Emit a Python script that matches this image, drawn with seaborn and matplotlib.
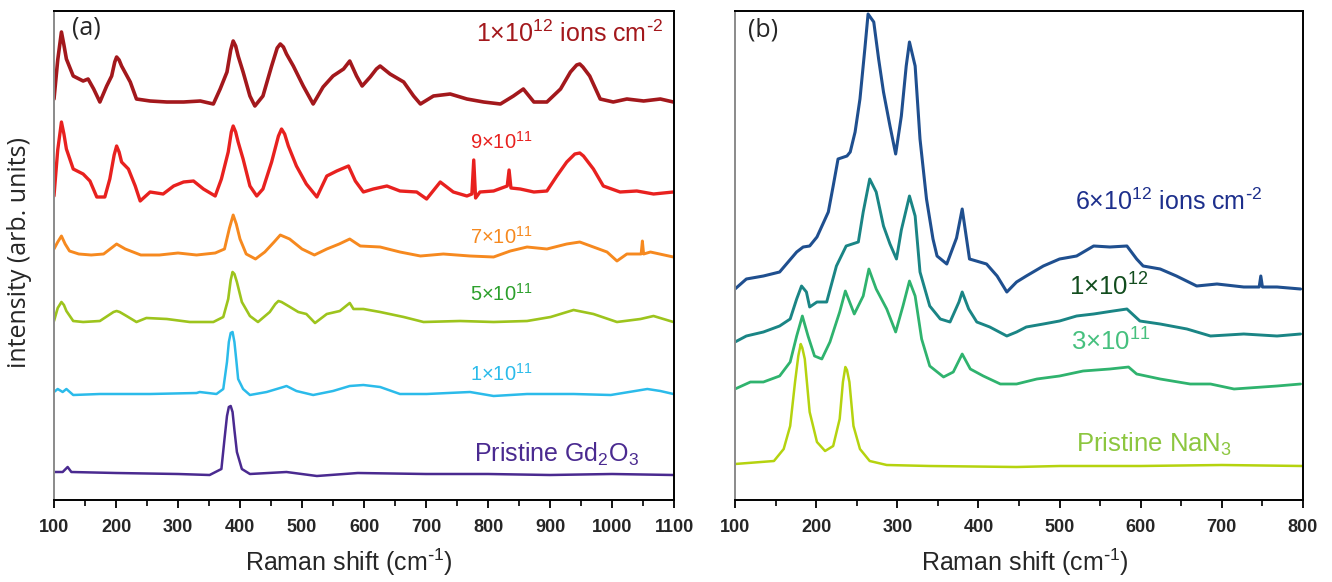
import numpy as np
import pandas as pd
import matplotlib
matplotlib.use("Agg")
import matplotlib.pyplot as plt
import seaborn as sns

sns.set_theme(style="white")
plt.rcParams['font.family'] = ['Liberation Sans', 'DejaVu Sans']
plt.rcParams['mathtext.default'] = 'regular'

# ---------------- Panel (a): Gd2O3 ----------------
a_1e12_x = [100, 106, 112, 116, 120, 131, 147, 155, 164, 174, 185, 193, 198, 201, 205, 209, 223, 233, 255, 282,
            309, 336, 357, 368, 379, 385, 389, 393, 397, 405, 416, 424, 437, 451, 460, 465, 470, 475, 486, 502,
            518, 534, 550, 567, 577, 588, 597, 610, 620, 626, 632, 642, 664, 680, 691, 712, 739, 766, 793, 820,
            841, 857, 874, 895, 917, 933, 943, 948, 953, 964, 981, 1002, 1024, 1051, 1078, 1099]
a_1e12_y = [401, 440, 468, 455, 441, 424, 419, 421, 411, 398, 414, 424, 438, 443, 440, 434, 418, 401, 399, 398,
            398, 399, 396, 411, 428, 450, 459, 454, 444, 428, 404, 394, 404, 434, 452, 456, 453, 446, 434, 414,
            396, 413, 424, 431, 439, 424, 414, 423, 431, 434, 431, 426, 418, 404, 396, 404, 406, 401, 398, 396,
            404, 411, 398, 398, 411, 428, 435, 436, 433, 424, 401, 398, 401, 399, 401, 398]

a_9e11_x = [100, 106, 112, 116, 120, 131, 147, 158, 169, 182, 190, 197, 201, 205, 209, 220, 231, 239, 255, 276,
            293, 309, 325, 341, 360, 370, 381, 386, 389, 393, 397, 405, 416, 427, 437, 451, 462, 467, 472, 478,
            491, 507, 524, 540, 556, 575, 586, 599, 615, 637, 658, 685, 701, 723, 744, 766, 774, 777, 780, 787,
            809, 831, 834, 837, 852, 874, 895, 911, 927, 940, 948, 954, 970, 986, 1013, 1040, 1067, 1099]
a_9e11_y = [304, 350, 378, 366, 351, 331, 326, 319, 303, 303, 321, 345, 354, 348, 338, 331, 314, 299, 308, 306,
            314, 318, 319, 311, 304, 321, 348, 368, 374, 368, 358, 341, 314, 304, 311, 338, 364, 371, 366, 354,
            334, 316, 303, 324, 329, 334, 319, 308, 311, 314, 309, 308, 301, 318, 308, 304, 306, 340, 302, 308,
            309, 314, 330, 312, 311, 308, 309, 324, 338, 346, 347, 344, 331, 314, 308, 309, 306, 308]

a_7e11_x = [100, 106, 112, 118, 125, 140, 160, 180, 201, 215, 240, 270, 300, 330, 360, 375, 383, 389, 394, 400,
            410, 425, 440, 455, 465, 480, 500, 520, 540, 560, 577, 594, 626, 658, 691, 728, 771, 809, 836, 863,
            895, 927, 948, 970, 992, 1008, 1024, 1047, 1049, 1051, 1062, 1099]
a_7e11_y = [251, 258, 264, 256, 249, 246, 245, 246, 256, 251, 245, 245, 247, 245, 247, 251, 272, 285, 276, 261,
            246, 241, 248, 258, 265, 261, 251, 245, 251, 256, 261, 254, 253, 248, 244, 246, 244, 243, 249, 253,
            251, 256, 258, 253, 248, 239, 246, 246, 259, 246, 248, 243]

a_5e11_x = [100, 106, 112, 116, 120, 131, 147, 174, 196, 201, 206, 217, 233, 249, 282, 319, 357, 373, 381, 385,
            388, 391, 395, 403, 416, 429, 448, 457, 462, 467, 478, 494, 507, 521, 540, 561, 577, 583, 599, 626,
            664, 696, 755, 809, 863, 901, 938, 970, 1008, 1046, 1067, 1099]
a_5e11_y = [179, 192, 198, 195, 189, 179, 178, 179, 188, 189, 188, 184, 178, 182, 181, 178, 178, 183, 201, 220,
            228, 226, 218, 198, 184, 178, 188, 196, 199, 198, 194, 188, 186, 177, 186, 189, 197, 191, 191, 188,
            183, 178, 179, 178, 179, 183, 190, 186, 178, 181, 184, 178]

a_1e11_x = [100, 106, 114, 120, 131, 174, 255, 330, 335, 362, 373, 379, 382, 385, 388, 391, 394, 397, 405, 416,
            443, 470, 475, 491, 518, 550, 577, 599, 626, 658, 701, 771, 809, 863, 938, 998, 1057, 1078, 1099]
a_1e11_y = [108, 111, 108, 111, 105, 106, 106, 107, 108, 106, 111, 138, 158, 167, 168, 158, 140, 121, 111, 105,
            108, 113, 114, 109, 105, 109, 114, 115, 113, 106, 106, 108, 104, 106, 106, 105, 111, 109, 106]

a_pristine_x = [100, 114, 122, 128, 200, 300, 351, 370, 375, 379, 382, 385, 388, 391, 395, 403, 416, 475, 524,
                590, 700, 800, 900, 1000, 1099]
a_pristine_y = [28, 28, 33, 28, 27, 26, 25, 31, 61, 84, 93, 94, 88, 70, 48, 31, 26, 28, 24, 27, 26, 26, 25, 26,
                25]

a_labels = ["1×10$^{12}$ ions cm$^{\\text{-}2}$", "9×10$^{11}$", "7×10$^{11}$", "5×10$^{11}$", "1×10$^{11}$",
            "Pristine Gd$_2$O$_3$"]
a_label_x = [931, 822, 822, 822, 822, 911]
a_label_y = [466, 358, 263, 206, 126, 46]
a_label_size = [18, 14.5, 14.5, 14.5, 14.5, 18]

a_colors = ["#a3181c", "#e8211f", "#f6891f", "#9dc41d", "#2bbbea", "#4a2a90"]
a_widths = [2.6, 2.4, 2.1, 1.9, 1.8, 1.8]
a_label_colors = ["#a3181c", "#e8211f", "#f6891f", "#2ca02c", "#2bbbea", "#4a2a90"]

# ---------------- Panel (b): NaN3 ----------------
b_6e12_x = [100, 114, 135, 155, 176, 184, 192, 201, 215, 221, 227, 238, 242, 248, 254, 260, 264, 271, 277, 283,
            291, 298, 305, 311, 315, 322, 328, 336, 344, 349, 361, 373, 380, 389, 410, 423, 435, 447, 459, 480,
            500, 521, 542, 562, 583, 595, 603, 624, 644, 669, 694, 727, 746, 748, 750, 768, 797]
b_6e12_y = [211, 221, 224, 228, 248, 253, 254, 263, 288, 314, 341, 344, 348, 368, 401, 451, 486, 478, 441, 408,
            374, 346, 384, 434, 458, 434, 361, 301, 261, 244, 236, 262, 291, 241, 236, 224, 208, 218, 224, 234,
            241, 244, 254, 253, 254, 241, 234, 231, 224, 214, 216, 213, 213, 224, 213, 213, 211]

b_1e12_x = [100, 114, 135, 155, 168, 176, 182, 188, 192, 201, 213, 225, 237, 252, 258, 266, 274, 283, 291, 299,
            305, 315, 322, 328, 340, 353, 365, 376, 380, 388, 398, 414, 435, 447, 459, 480, 500, 521, 542, 566,
            583, 599, 624, 657, 686, 727, 768, 797]
b_1e12_y = [158, 164, 168, 174, 181, 201, 214, 208, 193, 198, 198, 234, 254, 258, 288, 321, 308, 274, 256, 241,
            270, 304, 284, 228, 194, 181, 178, 198, 208, 191, 178, 173, 164, 168, 173, 176, 179, 184, 186, 189,
            191, 179, 176, 171, 164, 166, 164, 166]

b_3e11_x = [100, 119, 135, 155, 168, 176, 183, 190, 198, 207, 217, 229, 236, 247, 258, 265, 274, 287, 298, 307,
            315, 322, 330, 340, 357, 369, 380, 390, 406, 427, 447, 472, 500, 529, 562, 585, 595, 624, 661, 686,
            715, 768, 797]
b_3e11_y = [111, 118, 118, 124, 138, 164, 184, 164, 144, 141, 158, 188, 209, 186, 204, 231, 211, 191, 168, 194,
            219, 204, 161, 134, 123, 128, 146, 131, 124, 116, 116, 121, 124, 129, 131, 133, 126, 121, 116, 116,
            111, 114, 116]

b_pristine_x = [100, 148, 160, 168, 174, 178, 181, 183, 186, 192, 201, 211, 221, 229, 233, 236, 238, 241, 246,
                254, 266, 287, 340, 447, 500, 600, 700, 800]
b_pristine_y = [36, 39, 51, 74, 118, 144, 156, 152, 141, 88, 58, 49, 54, 81, 118, 133, 130, 118, 74, 51, 39, 35,
                34, 33, 34, 34, 35, 34]

b_labels = ["6×10$^{12}$ ions cm$^{\\text{-}2}$", "1×10$^{12}$", "3×10$^{11}$", "Pristine NaN$_3$"]
b_label_x = [635, 561, 563, 616]
b_label_y = [298, 213, 158, 56]
b_label_size = [18, 18.5, 18.5, 18.5]
b_colors = ["#1f4f8f", "#1a8585", "#2fb36e", "#b5d30f"]
b_widths = [2.2, 2.1, 2.0, 1.8]
b_label_colors = ["#1d2f8c", "#124d1e", "#46c07e", "#8cc63f"]

a_series = [(a_1e12_x, a_1e12_y), (a_9e11_x, a_9e11_y), (a_7e11_x, a_7e11_y), (a_5e11_x, a_5e11_y),
            (a_1e11_x, a_1e11_y), (a_pristine_x, a_pristine_y)]
b_series = [(b_6e12_x, b_6e12_y), (b_1e12_x, b_1e12_y), (b_3e11_x, b_3e11_y), (b_pristine_x, b_pristine_y)]

fig = plt.figure(figsize=(13.32, 5.82), dpi=100)
ax_a = fig.add_axes([54 / 1332, 1 - 500 / 582, 620 / 1332, 489 / 582])
ax_b = fig.add_axes([735 / 1332, 1 - 500 / 582, 568 / 1332, 489 / 582])

for (xs, ys), c, w in zip(a_series, a_colors, a_widths):
    sns.lineplot(x=xs, y=ys, ax=ax_a, color=c, lw=w)
for (xs, ys), c, w in zip(b_series, b_colors, b_widths):
    sns.lineplot(x=xs, y=ys, ax=ax_b, color=c, lw=w)

for t, x, y, s, c in zip(a_labels, a_label_x, a_label_y, a_label_size, a_label_colors):
    ax_a.text(x, y, t, color=c, fontsize=s, ha='center', va='center')
for t, x, y, s, c in zip(b_labels, b_label_x, b_label_y, b_label_size, b_label_colors):
    ax_b.text(x, y, t, color=c, fontsize=s, ha='center', va='center')

ax_a.text(153, 472, "(a)", fontsize=18, ha='center', va='center', family=['Open Sans', 'DejaVu Sans'])
ax_b.text(134.5, 470, "(b)", fontsize=18, ha='center', va='center', family=['Open Sans', 'DejaVu Sans'])

tick_font = {'family': ['Liberation Sans', 'DejaVu Sans'], 'weight': 'bold', 'size': 13}
for ax, xmax, lx in [(ax_a, 1100, 0.475), (ax_b, 800, 0.51)]:
    ax.set_xlim(100, xmax)
    ax.set_ylim(0, 489)
    ax.set_yticks([])
    ax.set_xticks(np.arange(100, xmax + 1, 100))
    ax.set_xticks(np.arange(150, xmax, 100), minor=True)
    ax.set_xticklabels([str(v) for v in range(100, xmax + 1, 100)], fontdict=tick_font)
    ax.tick_params(axis='x', which='major', direction='out', length=5.5, width=1.3, color='black',
                   bottom=True, pad=8)
    ax.tick_params(axis='x', which='minor', direction='out', length=4, width=1.2, color='black', bottom=True)
    ax.set_xlabel("Raman shift (cm$^{\\text{-}1}$)", fontsize=18)
    ax.xaxis.set_label_coords(lx, -62 / 489)
    ax.xaxis.label.set_va('center')
    for sp in ['top', 'right', 'bottom']:
        ax.spines[sp].set_color('black')
        ax.spines[sp].set_linewidth(1.4)
    ax.spines['left'].set_color('#8a8a8a')
    ax.spines['left'].set_linewidth(1.4)
    ax.grid(False)
    ax.set_ylabel("")

fig.text(20 / 1332, 1 - 252 / 582, "intensity (arb. units)", rotation=90, fontsize=18,
         ha='center', va='center', family=['Open Sans', 'DejaVu Sans'])

fig.savefig("out.png", dpi=100)
